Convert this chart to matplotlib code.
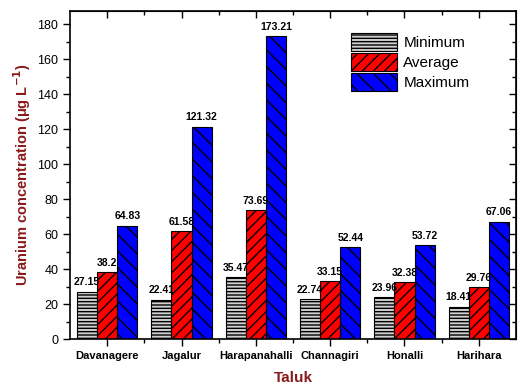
import matplotlib
matplotlib.use("Agg")
import matplotlib.pyplot as plt
import numpy as np

plt.rcParams['font.family'] = ['Liberation Sans', 'DejaVu Sans']
plt.rcParams['hatch.linewidth'] = 1.0

taluks = ["Davanagere", "Jagalur", "Harapanahalli", "Channagiri", "Honalli", "Harihara"]
minimum = [27.15, 22.41, 35.47, 22.74, 23.96, 18.41]
average = [38.2, 61.58, 73.69, 33.15, 32.38, 29.76]
maximum = [64.83, 121.32, 173.21, 52.44, 53.72, 67.06]
min_labels = ["27.15", "22.41", "35.47", "22.74", "23.96", "18.41"]
avg_labels = ["38.2", "61.58", "73.69", "33.15", "32.38", "29.76"]
max_labels = ["64.83", "121.32", "173.21", "52.44", "53.72", "67.06"]

fig = plt.figure(figsize=(5.18, 3.88), dpi=100)
ax = fig.add_axes([70/518, 1-339/388, 446/518, 328/388])

x = np.arange(1, len(taluks) + 1)
w = 0.27
off = 0.27
b1 = ax.bar(x - off, minimum, w, color='#cfcfcf', edgecolor='black', hatch='-----', linewidth=0.8, label='Minimum')
b2 = ax.bar(x, average, w, color='#ff0000', edgecolor='black', hatch='///', linewidth=0.8, label='Average')
b3 = ax.bar(x + off, maximum, w, color='#0000ff', edgecolor='black', hatch='\\\\', linewidth=0.8, label='Maximum')

for bars, labs in [(b1, min_labels), (b2, avg_labels), (b3, max_labels)]:
    for b, lab in zip(bars, labs):
        ax.text(b.get_x() + b.get_width()/2, b.get_height() + 2.5, lab,
                ha='center', va='bottom', fontsize=7.5, fontweight='bold')

ax.set_xlim(0.5, 6.5)
ax.set_ylim(0, 187.5)
ax.set_yticks(np.arange(0, 181, 20))
ax.set_yticks(np.arange(10, 181, 20), minor=True)
ax.set_xticks(x)
ax.set_xticks(np.arange(1.5, 6.5, 1), minor=True)
ax.set_xticklabels(taluks, fontsize=8, fontweight='bold')
ax.tick_params(axis='y', labelsize=9)
ax.tick_params(which='major', direction='out', length=5, width=1)
ax.tick_params(which='minor', direction='out', length=3, width=1)
for s in ax.spines.values():
    s.set_linewidth(1.2)

# mirrored inward ticks on top/right
axt = ax.secondary_xaxis('top')
axt.set_xticks(x)
axt.set_xticks(np.arange(1.5, 6.5, 1), minor=True)
axt.tick_params(which='major', direction='in', length=5, width=1, labeltop=False)
axt.tick_params(which='minor', direction='in', length=3, width=1)
axt.set_xticklabels([])
axr = ax.secondary_yaxis('right')
axr.set_yticks(np.arange(0, 181, 20))
axr.set_yticks(np.arange(10, 181, 20), minor=True)
axr.tick_params(which='major', direction='in', length=5, width=1)
axr.tick_params(which='minor', direction='in', length=3, width=1)
axr.set_yticklabels([])

ax.set_xlabel('Taluk', fontsize=11, fontweight='bold', color='#8b1a1a', labelpad=7)
ax.set_ylabel('Uranium concentration (μg L$^{\\mathbf{-1}}$)', fontsize=10.5, fontweight='bold', color='#8b1a1a', labelpad=3)

ax.legend(loc='upper left', bbox_to_anchor=(0.6, 0.975), frameon=False, fontsize=11,
          handlelength=3.0, handleheight=1.45, labelspacing=0.12, handletextpad=0.4)

fig.savefig('out.png', dpi=100)
